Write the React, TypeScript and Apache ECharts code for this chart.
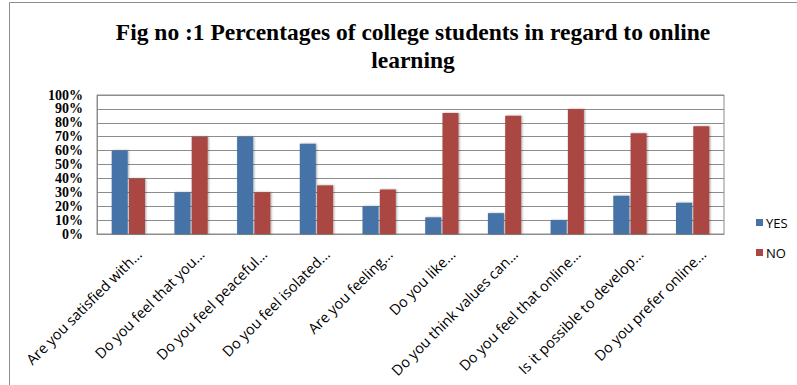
import React, { useEffect, useRef } from "react";
import * as echarts from "echarts";

const categories = [
  "Are you satisfied with...",
  "Do you feel that you...",
  "Do you feel peaceful...",
  "Do you feel isolated...",
  "Are you feeling...",
  "Do you like...",
  "Do you think values can...",
  "Do you feel that online...",
  "Is it possible to develop...",
  "Do you prefer online...",
];
const yesValues = [60, 30, 70, 65, 20, 12, 15, 10, 27.5, 22.5];
const noValues = [40, 70, 30, 35, 32, 87, 85, 90, 72.5, 77.5];
const titleText = "Fig no :1 Percentages of college students in regard to online\nlearning";

export default function App() {
  const ref = useRef<HTMLDivElement>(null);
  useEffect(() => {
    if (!ref.current) return;
    const chart = echarts.init(ref.current, undefined, { renderer: "svg" });
    const barShadow = {
      shadowBlur: 2,
      shadowColor: "rgba(0,0,0,0.35)",
      shadowOffsetX: 1,
      shadowOffsetY: 0,
    };
    chart.setOption({
      animation: false,
      backgroundColor: "#ffffff",
      title: {
        text: titleText,
        left: 408,
        textAlign: "center",
        top: 13,
        textStyle: {
          fontFamily: "Liberation Serif",
          fontWeight: "bold",
          fontSize: 23.5,
          lineHeight: 28,
          color: "#000",
        },
      },
      legend: {
        orient: "vertical",
        left: 751,
        top: 211,
        itemWidth: 7,
        itemHeight: 7,
        itemGap: 17,
        icon: "rect",
        textStyle: { fontFamily: "Open Sans", fontSize: 13, color: "#000", padding: [0, 0, 0, -2] },
        data: ["YES", "NO"],
      },
      grid: {
        left: 97,
        right: 73,
        top: 95,
        bottom: 151,
        containLabel: false,
        outerBoundsMode: "none",
        show: true,
        borderColor: "#8c8c8c",
        borderWidth: 1,
      },
      xAxis: {
        type: "category",
        data: categories,
        axisLine: { lineStyle: { color: "#8c8c8c" } },
        axisTick: { show: false },
        axisLabel: {
          interval: 0,
          rotate: 45,
          margin: 7,
          formatter: (v: string) => "\n" + v,
          lineHeight: 30,
          fontFamily: "Open Sans",
          fontSize: 14.5,
          color: "#000",
        },
      },
      yAxis: {
        type: "value",
        min: 0,
        max: 100,
        interval: 10,
        axisLine: { show: true, lineStyle: { color: "#8c8c8c" } },
        axisTick: { show: false },
        splitLine: { lineStyle: { color: "#8c8c8c" } },
        axisLabel: {
          formatter: "{value}%",
          margin: 14,
          showMinLabel: true,
          showMaxLabel: true,
          fontFamily: "Liberation Serif",
          fontWeight: "bold",
          fontSize: 14,
          color: "#000",
        },
      },
      series: [
        {
          name: "YES",
          type: "bar",
          data: yesValues,
          barWidth: 16,
          barGap: "8%",
          itemStyle: { color: "#4572A7", ...barShadow },
        },
        {
          name: "NO",
          type: "bar",
          data: noValues,
          barWidth: 16,
          itemStyle: { color: "#AA4643", ...barShadow },
        },
      ],
      graphic: [
        {
          type: "rect",
          shape: { x: 9.5, y: 2.5, width: 900, height: 500 },
          style: { fill: "none", stroke: "#8c8c8c", lineWidth: 1 },
          silent: true,
        },
      ],
    });
    return () => chart.dispose();
  }, []);
  return (
    <div
      ref={ref}
      style={{ position: "absolute", left: 0, top: 0, width: 797, height: 385 }}
    />
  );
}
